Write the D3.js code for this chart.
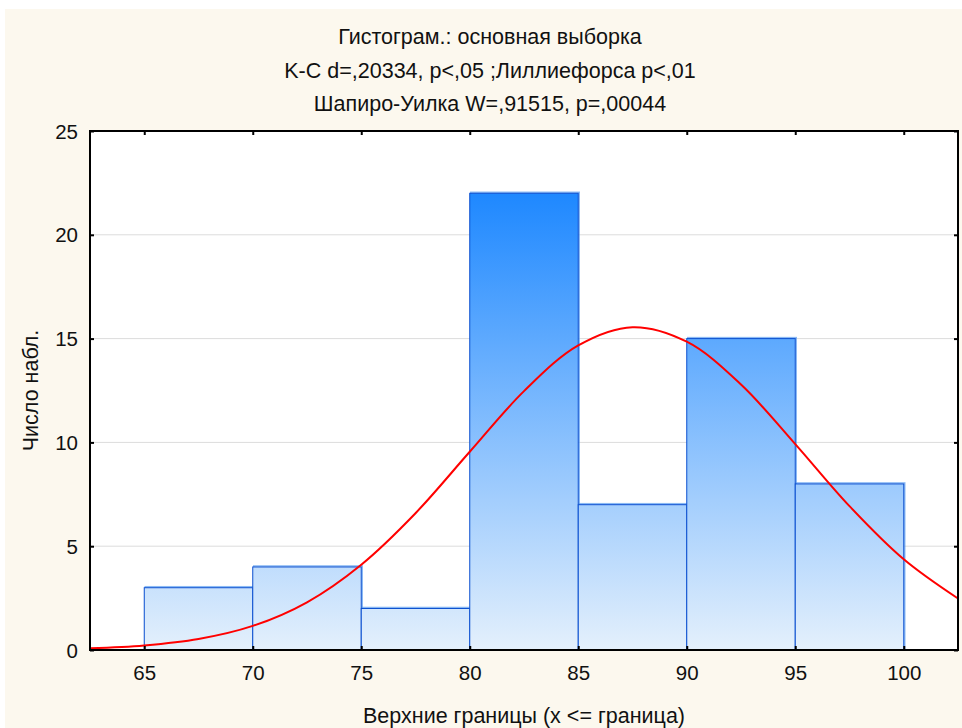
<!DOCTYPE html>
<html>
<head>
<meta charset="utf-8">
<script src="https://cdn.jsdelivr.net/npm/d3@7"></script>
<style>
  body { margin: 0; background: #fff; }
  svg text { font-family: "Liberation Sans", Arial, sans-serif; fill: #111; }
</style>
</head>
<body>
<svg id="chart"></svg>
<script>
// data
const binStarts = [65, 70, 75, 80, 85, 90, 95];
const binCounts = [3, 4, 2, 22, 7, 15, 8];
const xTicks = [65, 70, 75, 80, 85, 90, 95, 100];
const yTicks = [0, 5, 10, 15, 20, 25];
// fitted normal curve
const curveX = [62.5, 65, 67.5, 70, 72.5, 75, 77.5, 80, 82.5, 85, 87.5, 90, 92.5, 95, 97.5, 100, 102.5];
const curveY = [0.08, 0.22, 0.53, 1.16, 2.30, 4.11, 6.59, 9.55, 12.47, 14.67, 15.55, 14.85, 12.79, 9.92, 6.93, 4.37, 2.48];
const titleLines = [
  "Гистограм.: основная выборка",
  "K-C d=,20334, p<,05 ;Лиллиефорса p<,01",
  "Шапиро-Уилка W=,91515, p=,00044"
];
const binWidth = 5;

const W = 962, H = 728;
const margin = {top: 131, right: 4, bottom: 78, left: 90};
const width = W - margin.left - margin.right,
      height = H - margin.top - margin.bottom;

const svg = d3.select("#chart").attr("width", W).attr("height", H);

// cream panel
svg.append("rect")
    .attr("x", 5).attr("y", 9)
    .attr("width", W - 5).attr("height", H - 9)
    .attr("fill", "#fcf8ee");

const g = svg.append("g")
    .attr("transform", `translate(${margin.left},${margin.top})`);

const x = d3.scaleLinear().domain([62.5, 102.5]).range([0, width]);
const y = d3.scaleLinear().domain([0, 25]).range([height, 0]);

// gradient across the whole bar height
const grad = svg.append("defs").append("linearGradient")
    .attr("id", "barGrad")
    .attr("gradientUnits", "userSpaceOnUse")
    .attr("x1", 0).attr("x2", 0)
    .attr("y1", y(d3.max(binCounts))).attr("y2", y(0));
grad.append("stop").attr("offset", "0%").attr("stop-color", "#1e88ff");
grad.append("stop").attr("offset", "100%").attr("stop-color", "#e4f0fc");

g.append("rect")
    .attr("width", width).attr("height", height)
    .attr("fill", "#fff");

// grid
g.append("g")
    .selectAll("line")
    .data(yTicks.filter(d => d > 0 && d < 25))
    .join("line")
    .attr("x1", 0).attr("x2", width)
    .attr("y1", d => y(d)).attr("y2", d => y(d))
    .attr("stroke", "#dcdcdc")
    .attr("stroke-width", 1);

const bins = binStarts.map((s, i) => ({x0: s, x1: s + binWidth, n: binCounts[i]}));

// light edge behind each bar
g.append("g")
    .selectAll("rect")
    .data(bins)
    .join("rect")
    .attr("x", d => x(d.x0) + 1)
    .attr("y", d => y(d.n) - 1)
    .attr("width", d => x(d.x1) - x(d.x0))
    .attr("height", d => y(0) - y(d.n))
    .attr("fill", "none")
    .attr("stroke", "#5a9cf0")
    .attr("stroke-opacity", 0.7)
    .attr("stroke-width", 1.5);

g.append("g")
    .selectAll("rect")
    .data(bins)
    .join("rect")
    .attr("x", d => x(d.x0))
    .attr("y", d => y(d.n))
    .attr("width", d => x(d.x1) - x(d.x0))
    .attr("height", d => y(0) - y(d.n))
    .attr("fill", "url(#barGrad)")
    .attr("stroke", "#0b4fd0")
    .attr("stroke-width", 1);

// normal curve
const curvePts = curveX.map((v, i) => [v, curveY[i]]);
g.append("path")
    .datum(curvePts)
    .attr("fill", "none")
    .attr("stroke", "#ff0000")
    .attr("stroke-width", 2)
    .attr("d", d3.line()
        .x(d => x(d[0]))
        .y(d => y(d[1]))
        .curve(d3.curveCatmullRom));

// axes with inward ticks
const fmt = d3.format("d");
const axB = g.append("g").attr("transform", `translate(0,${height})`)
    .call(d3.axisBottom(x).tickValues(xTicks).tickSize(-4).tickFormat(fmt));
const axT = g.append("g")
    .call(d3.axisTop(x).tickValues(xTicks).tickSize(-4).tickFormat(""));
const axL = g.append("g")
    .call(d3.axisLeft(y).tickValues(yTicks).tickSize(-4).tickFormat(fmt));
const axR = g.append("g").attr("transform", `translate(${width},0)`)
    .call(d3.axisRight(y).tickValues(yTicks).tickSize(-4).tickFormat(""));

[axB, axT, axL, axR].forEach(a => {
  a.select(".domain").remove();
  a.selectAll(".tick line").attr("stroke", "#000").attr("stroke-width", 2);
  a.selectAll(".tick text").attr("font-size", 20.5).attr("fill", "#111")
      .style("font-family", "'Liberation Sans', Arial, sans-serif");
});
axB.selectAll(".tick text").attr("y", 30).attr("dy", 0);
axL.selectAll(".tick text").attr("x", -12).attr("dy", "0.35em");

g.append("rect")
    .attr("width", width).attr("height", height)
    .attr("fill", "none")
    .attr("stroke", "#000")
    .attr("stroke-width", 2);

// titles
svg.append("g")
    .selectAll("text")
    .data(titleLines)
    .join("text")
    .attr("x", 490)
    .attr("y", (d, i) => 44 + i * 33.5)
    .attr("text-anchor", "middle")
    .attr("font-size", 21.5)
    .text(d => d);

svg.append("text")
    .attr("x", margin.left + width / 2)
    .attr("y", 723)
    .attr("text-anchor", "middle")
    .attr("font-size", 21.5)
    .text("Верхние границы (x <= граница)");

svg.append("text")
    .attr("transform", `translate(38,${margin.top + height / 2}) rotate(-90)`)
    .attr("text-anchor", "middle")
    .attr("font-size", 21.5)
    .text("Число набл.");
</script>
</body>
</html>
